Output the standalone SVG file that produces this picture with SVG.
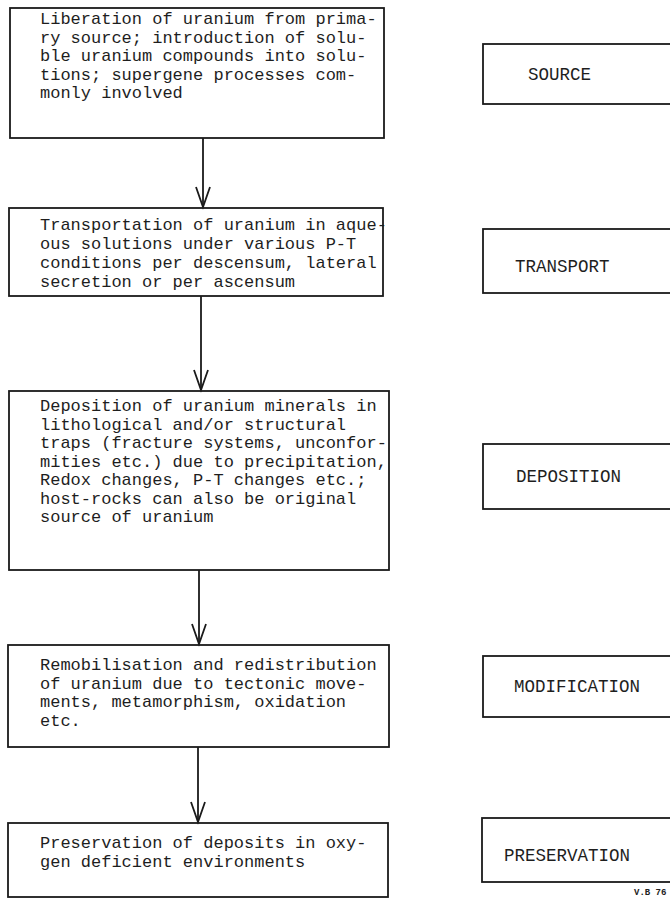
<svg xmlns="http://www.w3.org/2000/svg" width="670" height="898" viewBox="0 0 670 898">
  <style>
    .box { fill: #ffffff; stroke: #1a1a1a; stroke-width: 1.8; }
    .body { font-family: "Liberation Mono", "DejaVu Sans Mono", monospace; font-size: 17px; fill: #1e1e1e; }
    .label { font-family: "Liberation Mono", "DejaVu Sans Mono", monospace; font-size: 17.5px; fill: #1e1e1e; }
    .wire { stroke: #1a1a1a; stroke-width: 1.8; fill: none; }
    .note { font-family: "Liberation Mono", monospace; font-size: 9px; font-weight: bold; fill: #222; }
  </style>
  <defs>
    <marker id="vhead" markerUnits="userSpaceOnUse" markerWidth="30" markerHeight="30" viewBox="-15 -25 30 30" refX="0" refY="0" orient="auto-start-reverse" overflow="visible">
      <path d="M-20,-7 L0,0 L-20,7" fill="none" stroke="#1a1a1a" stroke-width="1.8"/>
    </marker>
  </defs>
  <rect width="670" height="898" fill="#ffffff"/>

  <!-- process chain -->
  <g id="n-source">
    <rect class="box" x="10" y="8" width="374" height="130"/>
    <text class="body" x="40" y="24">Liberation of uranium from prima-</text>
    <text class="body" x="40" y="42.5">ry source; introduction of solu-</text>
    <text class="body" x="40" y="61">ble uranium compounds into solu-</text>
    <text class="body" x="40" y="79.5">tions; supergene processes com-</text>
    <text class="body" x="40" y="98">monly involved</text>
  </g>
  <g id="n-transport">
    <rect class="box" x="9" y="208" width="374" height="88"/>
    <text class="body" x="40" y="230">Transportation of uranium in aque-</text>
    <text class="body" x="40" y="249">ous solutions under various P-T</text>
    <text class="body" x="40" y="268">conditions per descensum, lateral</text>
    <text class="body" x="40" y="287">secretion or per ascensum</text>
  </g>
  <g id="n-deposition">
    <rect class="box" x="9" y="391" width="380" height="179"/>
    <text class="body" x="40" y="411">Deposition of uranium minerals in</text>
    <text class="body" x="40" y="429.5">lithological and/or structural</text>
    <text class="body" x="40" y="448">traps (fracture systems, unconfor-</text>
    <text class="body" x="40" y="466.5">mities etc.) due to precipitation,</text>
    <text class="body" x="40" y="485">Redox changes, P-T changes etc.;</text>
    <text class="body" x="40" y="503.5">host-rocks can also be original</text>
    <text class="body" x="40" y="522">source of uranium</text>
  </g>
  <g id="n-modification">
    <rect class="box" x="8" y="645" width="381" height="102"/>
    <text class="body" x="40" y="670">Remobilisation and redistribution</text>
    <text class="body" x="40" y="688.5">of uranium due to tectonic move-</text>
    <text class="body" x="40" y="707">ments, metamorphism, oxidation</text>
    <text class="body" x="40" y="725.5">etc.</text>
  </g>
  <g id="n-preservation">
    <rect class="box" x="8" y="823" width="380" height="74"/>
    <text class="body" x="40" y="848">Preservation of deposits in  oxy-</text>
    <text class="body" x="40" y="866.5">gen deficient environments</text>
  </g>

  <!-- stage labels -->
  <g id="s-source">
    <rect class="box" x="483" y="44" width="200" height="60"/>
    <text class="label" x="528" y="80">SOURCE</text>
  </g>
  <g id="s-transport">
    <rect class="box" x="483" y="229" width="200" height="64"/>
    <text class="label" x="515" y="272">TRANSPORT</text>
  </g>
  <g id="s-deposition">
    <rect class="box" x="483" y="444" width="200" height="65"/>
    <text class="label" x="516" y="482">DEPOSITION</text>
  </g>
  <g id="s-modification">
    <rect class="box" x="483" y="656" width="200" height="61"/>
    <text class="label" x="514" y="692">MODIFICATION</text>
  </g>
  <g id="s-preservation">
    <rect class="box" x="482" y="818" width="200" height="64"/>
    <text class="label" x="504" y="861">PRESERVATION</text>
  </g>

  <!-- connectors -->
  <g id="connectors">
    <line class="wire" x1="203" y1="138" x2="203" y2="207" marker-end="url(#vhead)"/>
    <line class="wire" x1="201" y1="296" x2="201" y2="390" marker-end="url(#vhead)"/>
    <line class="wire" x1="199" y1="570" x2="199" y2="644" marker-end="url(#vhead)"/>
    <line class="wire" x1="198" y1="747" x2="198" y2="822" marker-end="url(#vhead)"/>
  </g>

  <text class="note" x="634" y="895">V.B 76</text>
</svg>
